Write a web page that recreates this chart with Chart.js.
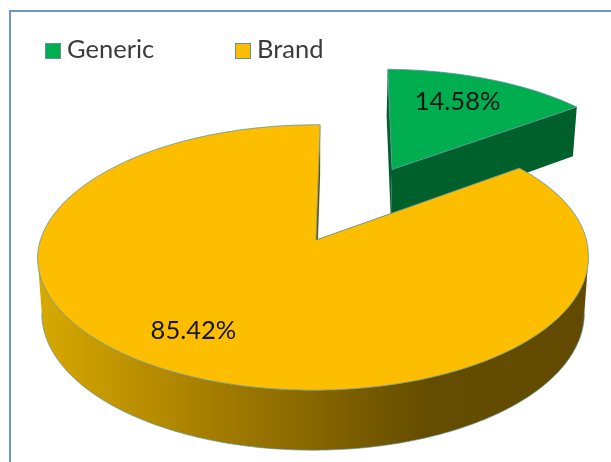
<!DOCTYPE html>
<html>
<head>
<meta charset="utf-8">
<title>Generic vs Brand</title>
<script src="https://cdn.jsdelivr.net/npm/chart.js@4"></script>
<style>
  html, body { margin: 0; padding: 0; background: #fff; overflow: hidden; }
  #frame { position: absolute; left: 9px; top: 10px; width: 700px; height: 600px; border: 2px solid #6f95cd; }
  #pie { position: absolute; left: 0; top: 0; }
</style>
</head>
<body>
<div id="frame"></div>
<canvas id="pie" width="611" height="462"></canvas>
<script>
const categories = ["Generic", "Brand"];
const shares = [14.58, 85.42];

const sliceColors = ["#00ae4f", "#fdbe00"];
const wallColors = ["#00602c", "#6b5200"];
const edgeColor = "#5f939e";

const FONT = "Lato, 'Open Sans', sans-serif";

// 3D look of the pie: tilt squashes the disc, persp is the perspective
// strength, depth is the rim height in px, lean pulls the near half sideways
const view = { tilt: 0.4776, persp: 0.132, depth: 55, depthGrow: 0.09, floorShrink: 0.985, lean: 3 };

// where each percentage sits on its slice (fraction of radius, degrees off the bisector)
const labelSpots = [{ r: 0.715, turn: -2.2 }, { r: 0.754, turn: 5.3 }];

const legendSpots = [{ x: 45, y: 43 }, { x: 235, y: 43 }];

function project(arc, px, py) {
  const R = arc.outerRadius;
  const u = px / R, v = py / R;
  const w = 1 - view.persp * v;
  const near = Math.min(1, Math.max(0, (v + 0.6) / 0.7));
  const lean = view.lean * near * (u * u + v * v);
  return { x: arc.x + R * u / w - lean, y: arc.y + R * view.tilt * v / w, v: v };
}

// same plane point, on the floor of the pie
function projectFloor(arc, px, py) {
  const p = project(arc, px, py);
  return {
    x: arc.x + (p.x - arc.x) * view.floorShrink,
    y: p.y + view.depth * (1 + view.depthGrow * p.v)
  };
}

function explodeOf(arc) {
  const mid = (arc.startAngle + arc.endAngle) / 2;
  const off = arc.options.offset || 0;
  return { x: Math.cos(mid) * off, y: Math.sin(mid) * off };
}

function rimPoints(arc, from, to) {
  const e = explodeOf(arc);
  const pts = [];
  const steps = Math.max(2, Math.ceil((to - from) * 180 / Math.PI));
  for (let i = 0; i <= steps; i++) {
    const a = from + (to - from) * i / steps;
    pts.push({ x: e.x + Math.cos(a) * arc.outerRadius, y: e.y + Math.sin(a) * arc.outerRadius });
  }
  return pts;
}

function tracePoly(ctx, poly) {
  ctx.beginPath();
  poly.forEach((p, i) => i ? ctx.lineTo(p.x, p.y) : ctx.moveTo(p.x, p.y));
  ctx.closePath();
}

function drawWall(ctx, arc, plane, fill) {
  const top = plane.map(p => project(arc, p.x, p.y));
  const floor = plane.map(p => projectFloor(arc, p.x, p.y)).reverse();
  tracePoly(ctx, top.concat(floor));
  ctx.fillStyle = fill;
  ctx.fill();
}

function drawSlice(ctx, arc, wallColor, rimFill) {
  const e = explodeOf(arc);
  const R = arc.outerRadius;

  // flat cut faces
  [arc.startAngle, arc.endAngle].forEach(a => {
    drawWall(ctx, arc, [e, { x: e.x + Math.cos(a) * R, y: e.y + Math.sin(a) * R }], wallColor);
  });

  // curved rim, between the two silhouette points of the disc
  const edge = Math.asin(view.persp);
  const from = Math.max(arc.startAngle, edge);
  const to = Math.min(arc.endAngle, Math.PI - edge);
  if (to > from) {
    const rim = rimPoints(arc, from, to);
    drawWall(ctx, arc, rim, rimFill);
    ctx.beginPath();
    rim.map(p => projectFloor(arc, p.x, p.y)).forEach((p, i) => i ? ctx.lineTo(p.x, p.y) : ctx.moveTo(p.x, p.y));
    ctx.strokeStyle = edgeColor;
    ctx.lineWidth = 0.7;
    ctx.stroke();
  }

  // top face
  const face = [e].concat(rimPoints(arc, arc.startAngle, arc.endAngle))
    .map(p => project(arc, p.x, p.y));
  tracePoly(ctx, face);
  ctx.fillStyle = arc.options.backgroundColor;
  ctx.fill();
  ctx.strokeStyle = arc.options.borderColor;
  ctx.lineWidth = arc.options.borderWidth;
  ctx.stroke();
}

const pie3d = {
  id: "pie3d",
  beforeDatasetsDraw(chart) {
    const ctx = chart.ctx;
    const arcs = chart.getDatasetMeta(0).data;
    const R = arcs[0].outerRadius, cx = arcs[0].x;

    // rim shading runs left to right across the whole pie
    const rimFill = ctx.createLinearGradient(cx - R, 0, cx + R, 0);
    rimFill.addColorStop(0, "#d6a800");
    rimFill.addColorStop(0.29, "#a88000");
    rimFill.addColorStop(0.71, "#644c00");
    rimFill.addColorStop(1, "#624b00");

    arcs.forEach((arc, i) => drawSlice(ctx, arc, wallColors[i], rimFill));

    // percentages
    ctx.save();
    ctx.font = "25.5px " + FONT;
    ctx.fillStyle = "#161616";
    ctx.textAlign = "center";
    ctx.textBaseline = "middle";
    arcs.forEach((arc, i) => {
      const spot = labelSpots[i];
      const e = explodeOf(arc);
      const a = (arc.startAngle + arc.endAngle) / 2 + spot.turn * Math.PI / 180;
      const p = project(arc, e.x + Math.cos(a) * spot.r * arc.outerRadius, e.y + Math.sin(a) * spot.r * arc.outerRadius);
      ctx.fillText(shares[i].toFixed(2) + "%", p.x, p.y);
    });
    ctx.restore();

    // legend keys
    ctx.save();
    ctx.font = "25.5px " + FONT;
    ctx.textAlign = "left";
    ctx.textBaseline = "middle";
    categories.forEach((name, i) => {
      const k = legendSpots[i];
      ctx.fillStyle = sliceColors[i];
      ctx.strokeStyle = edgeColor;
      ctx.lineWidth = 1;
      ctx.fillRect(k.x, k.y, 16, 16);
      ctx.strokeRect(k.x + 0.5, k.y + 0.5, 15, 15);
      ctx.fillStyle = "#3a3a3a";
      ctx.fillText(name, k.x + 22, k.y + 7);
    });
    ctx.restore();

    return false;
  }
};

new Chart(document.getElementById("pie"), {
  type: "pie",
  data: {
    labels: categories,
    datasets: [{
      data: shares,
      backgroundColor: sliceColors,
      borderColor: edgeColor,
      borderWidth: 0.8,
      offset: [179, 0]
    }]
  },
  options: {
    responsive: false,
    animation: false,
    rotation: 1,
    radius: 273,
    layout: { padding: { left: 21, top: 18, right: 0, bottom: 0 } },
    plugins: { legend: { display: false }, tooltip: { enabled: false } }
  },
  plugins: [pie3d]
});
</script>
</body>
</html>
